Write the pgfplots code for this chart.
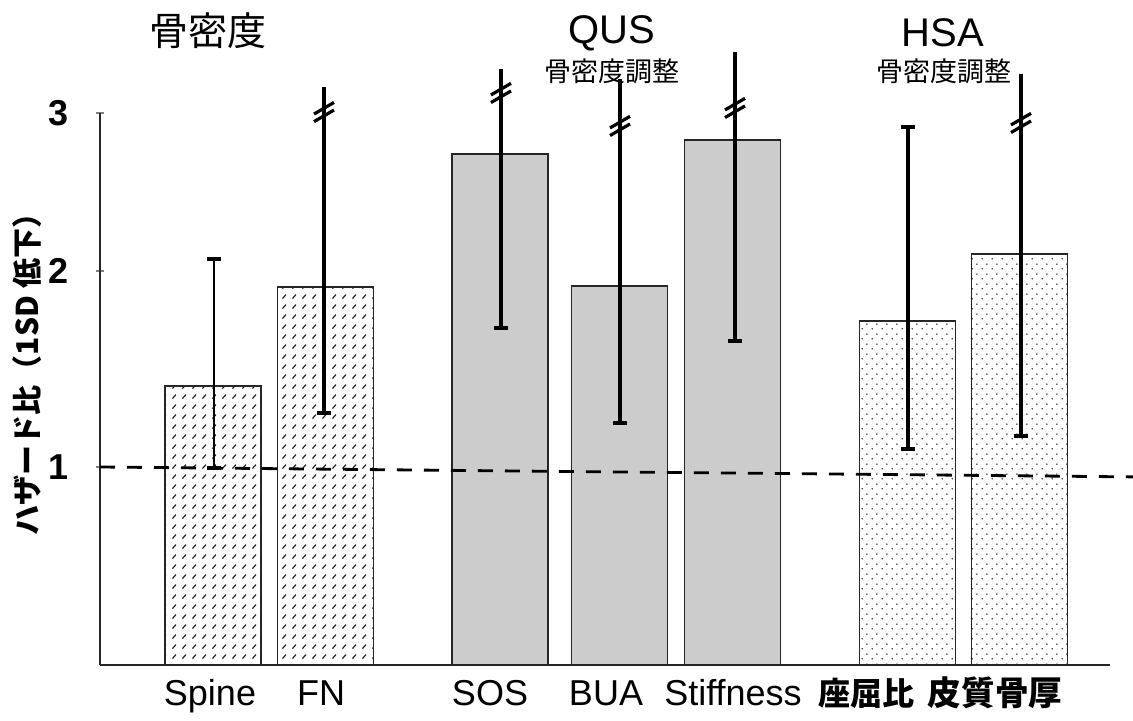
\documentclass[border=0pt]{standalone}
\usepackage{fontspec}
\setmainfont{Liberation Sans}
\newfontfamily\jp{Noto Sans CJK JP}
\usepackage{pgfplots}
\pgfplotsset{compat=1.18}
\usetikzlibrary{patterns}

% short slanted dashes (bone density bars)
\pgfdeclarepatternformonly{slashes}{\pgfqpoint{-1pt}{-1pt}}{\pgfqpoint{6pt}{6pt}}{\pgfqpoint{5pt}{5pt}}{%
  \pgfsetlinewidth{0.6pt}%
  \pgfpathmoveto{\pgfqpoint{1.2pt}{1.2pt}}%
  \pgfpathlineto{\pgfqpoint{3pt}{3.2pt}}%
  \pgfusepath{stroke}}
% staggered dots (HSA bars)
\pgfdeclarepatternformonly{sdots}{\pgfqpoint{0pt}{0pt}}{\pgfqpoint{5pt}{5pt}}{\pgfqpoint{5pt}{5pt}}{%
  \pgfpathcircle{\pgfqpoint{1.25pt}{1.25pt}}{0.5pt}%
  \pgfpathcircle{\pgfqpoint{3.75pt}{3.75pt}}{0.5pt}%
  \pgfusepath{fill}}
% axis-break sign on truncated confidence intervals
\pgfdeclareplotmark{brk}{%
  \pgfsetlinewidth{1.6pt}%
  \pgfpathmoveto{\pgfqpoint{-5pt}{-4.8pt}}\pgfpathlineto{\pgfqpoint{5pt}{1.0pt}}%
  \pgfpathmoveto{\pgfqpoint{-5pt}{-1.0pt}}\pgfpathlineto{\pgfqpoint{5pt}{4.8pt}}%
  \pgfusepathqstroke}

\begin{document}
\begin{tikzpicture}
\useasboundingbox (-50pt,-28pt) rectangle (516.5pt,332.5pt);
\begin{axis}[
  at={(0,0)}, anchor=south west,
  scale only axis, width=505pt, height=276pt,
  clip=false,
  xmin=100, xmax=1110,
  ymin=0, ymax=3,
  % piecewise scale of the hazard-ratio axis
  y coord trafo/.code={\pgfmathparse{198*min(#1,1)+196*max(0,min(#1,2)-1)+158*max(0,#1-2)}},
  axis x line=bottom, axis y line=left,
  axis line style={-, line width=1pt, black!85},
  xtick={210,321,490,606,733,866,995},
  xticklabels={Spine,FN,SOS,BUA,Stiffness,{\jp\bfseries\fontsize{16}{16}\selectfont 座屈比},{\jp\bfseries\fontsize{16.8}{16.8}\selectfont 皮質骨厚}},
  xtick style={draw=none},
  xticklabel style={font=\fontsize{18}{18}\selectfont, anchor=base, text height=13pt, text depth=4pt, yshift=-18pt},
  ytick={1,2,3},
  yticklabels={1,2,3},
  yticklabel style={font=\fontsize{18}{18}\selectfont\bfseries, xshift=-10pt},
  ytick style={line width=0.8pt},
  tick align=center,
  major tick length=4pt,
]
% bars
\addplot[ybar, bar width=96, bar shift=0pt, draw=black!85, line width=0.6pt,
  fill=white, postaction={pattern=slashes, pattern color=black!85}]
  coordinates {(213,1.413) (325.5,1.918)};
\addplot[ybar, bar width=96, bar shift=0pt, draw=black!85, line width=0.6pt,
  fill=black!20]
  coordinates {(500,2.741) (619.5,1.923) (732.5,2.829)};
\addplot[ybar, bar width=96, bar shift=0pt, draw=black!85, line width=0.6pt,
  fill=white, postaction={pattern=sdots, pattern color=black!75}]
  coordinates {(907.5,1.745) (1019.5,2.108)};
% reference line HR = 1
\addplot[black, line width=1.4pt, dash pattern=on 7.5pt off 6pt]
  coordinates {(100,1) (1133,0.95)};
% 95% confidence intervals
\addplot[black, line width=1.1pt] coordinates {(214,0.995) (214,2.076)};
\addplot[black, line width=1.6pt] coordinates {(324,1.276) (324,3.165)};
\addplot[black, line width=1.6pt] coordinates {(501,1.709) (501,3.278)};
\addplot[black, line width=1.6pt] coordinates {(620,1.224) (620,3.215)};
\addplot[black, line width=1.6pt] coordinates {(735,1.643) (735,3.386)};
\addplot[black, line width=1.6pt] coordinates {(908,1.092) (908,2.911)};
\addplot[black, line width=1.6pt] coordinates {(1021,1.158) (1021,3.247)};
% caps
\addplot[only marks, mark=-, mark size=3.5pt, mark options={line width=2pt, black}]
  coordinates {(214,0.995) (324,1.276) (501,1.709) (620,1.224) (735,1.643)
               (908,1.092) (1021,1.158) (214,2.076) (908,2.911)};
% break signs
\addplot[only marks, mark=brk, mark options={black}]
  coordinates {(324,3.006) (501,3.127) (620,2.918) (735,3.032) (1021,2.937)};
\end{axis}
% group headings and axis title
\node[font=\jp\fontsize{19.5}{19.5}\selectfont] at (54pt,317pt) {骨密度};
\node[font=\fontsize{20}{20}\selectfont] at (256pt,316pt) {QUS};
\node[font=\jp\fontsize{13.5}{13.5}\selectfont] at (256pt,297pt) {骨密度調整};
\node[font=\fontsize{20}{20}\selectfont] at (421.5pt,316pt) {HSA};
\node[font=\jp\fontsize{13.5}{13.5}\selectfont] at (422pt,297pt) {骨密度調整};
\node[font=\jp\bfseries\fontsize{15}{15}\selectfont, rotate=90] at (-36.5pt,149pt) {ハザード比（1SD 低下）};
\end{tikzpicture}
\end{document}
